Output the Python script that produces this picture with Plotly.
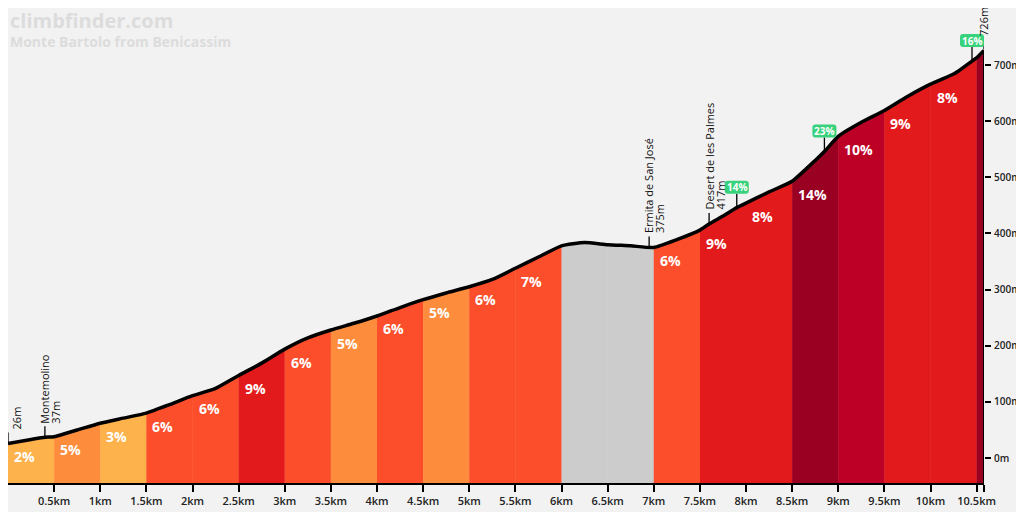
import plotly.graph_objects as go

# --- DATA ---
DIST = [0, 0.25, 0.4, 0.5, 0.75, 1.0, 1.25, 1.5, 1.75, 2.0, 2.25, 2.5, 2.75,
        3.0, 3.25, 3.5, 3.75, 4.0, 4.25, 4.5, 4.75, 5.0, 5.25, 5.5, 5.75,
        6.0, 6.25, 6.5, 6.75, 7.0, 7.25, 7.5, 7.6, 7.75, 7.9, 8.0, 8.25,
        8.5, 8.75, 8.85, 9.0, 9.25, 9.5, 9.75, 10.0, 10.25, 10.3, 10.45,
        10.5, 10.58]
ELEV = [26, 33, 37, 38, 50, 62, 71, 80, 95, 111, 124, 147, 169,
        194, 214, 228, 240, 253, 268, 282, 294, 305, 318, 338, 358,
        378, 384, 380, 378, 375, 389, 406, 417, 431, 446, 454, 474,
        493, 530, 546, 573, 598, 619, 644, 666, 684, 689, 707,
        713, 726]

SEG_BOUNDS = [0, 0.5, 1.0, 1.5, 2.0, 2.5, 3.0, 3.5, 4.0, 4.5, 5.0, 5.5,
              6.0, 6.5, 7.0, 7.5, 8.0, 8.5, 9.0, 9.5, 10.0, 10.5, 10.58]
SEG_LABELS = ['2%', '5%', '3%', '6%', '6%', '9%', '6%', '5%', '6%', '5%', '6%',
              '7%', '', '', '6%', '9%', '8%', '14%', '10%', '9%', '8%', '']
SEG_CLASS = ['c2', 'c5', 'c2', 'c6', 'c6', 'c9', 'c6', 'c5', 'c6', 'c5', 'c6',
             'c6', 'flat', 'flat', 'c6', 'c9', 'c9', 'c14', 'c10', 'c9', 'c9', 'c14']

# named points along the climb
POI_DIST = [0, 0.4, 6.95, 7.6, 10.58]
POI_NAME = ['', 'Montemolino', 'Ermita de San José', 'Desert de les Palmes', '']
POI_ELEV = [26, 37, 375, 417, 726]

# steepest pitches
MAX_DIST = [7.9, 8.85, 10.45]
MAX_ELEV = [446, 546, 707]
MAX_TEXT = ['14%', '23%', '16%']

X_TICKS = [0.5, 1, 1.5, 2, 2.5, 3, 3.5, 4, 4.5, 5, 5.5, 6, 6.5, 7, 7.5, 8,
           8.5, 9, 9.5, 10, 10.5]
Y_TICKS = [0, 100, 200, 300, 400, 500, 600, 700]

# --- STYLE ---
COLORS = {
    'c2': '#feb24c', 'c5': '#fd8d3c', 'c6': '#fc4e2a', 'c9': '#e31a1c',
    'c10': '#bd0026', 'c14': '#990021', 'flat': '#cccccc',
}
BG = '#f2f2f2'
FONT = 'Open Sans'
Y_MIN, Y_MAX = -44.5, 801.6
POI_FONT = dict(family=FONT, size=11, color='#111', weight=500)

fig = go.Figure()

# coloured segments under the profile
for i, cls in enumerate(SEG_CLASS):
    x0, x1 = SEG_BOUNDS[i], SEG_BOUNDS[i + 1]
    xs = [d for d in DIST if x0 <= d <= x1]
    ys = [e for d, e in zip(DIST, ELEV) if x0 <= d <= x1]
    fig.add_trace(go.Scatter(
        x=xs + [x1, x0], y=ys + [Y_MIN, Y_MIN],
        fill='toself', fillcolor=COLORS[cls], mode='lines',
        line=dict(color=COLORS[cls], width=0.8),
        hoverinfo='skip', showlegend=False))
    if SEG_LABELS[i]:
        fig.add_annotation(x=x0, y=ys[0], text=SEG_LABELS[i], showarrow=False,
                           xanchor='left', yanchor='middle', xshift=4, yshift=-13,
                           font=dict(family=FONT, size=14, color='white', weight='bold'))

# profile line
fig.add_trace(go.Scatter(x=DIST, y=ELEV, mode='lines',
                         line=dict(color='black', width=3.5, shape='spline', smoothing=0.5),
                         hoverinfo='skip', showlegend=False))
fig.add_trace(go.Scatter(x=[DIST[-1], DIST[-1]], y=[ELEV[-1], Y_MIN], mode='lines',
                         line=dict(color='black', width=2),
                         hoverinfo='skip', showlegend=False))

# point-of-interest labels: name on the tick, altitude just right of it
for i, (d, e, name) in enumerate(zip(POI_DIST, POI_ELEV, POI_NAME)):
    fig.add_shape(type='line', xref='x', yref='y', ysizemode='pixel', yanchor=e,
                  x0=d, x1=d, y0=1, y1=11, line=dict(color='black', width=1.3))
    if name:
        fig.add_annotation(x=d, y=e, text=name, showarrow=False, textangle=-90,
                           xanchor='center', yanchor='bottom', yshift=12, font=POI_FONT)
        fig.add_annotation(x=d, y=e, text=f'{e}m', showarrow=False, textangle=-90,
                           xanchor='center', yanchor='bottom', xshift=11, yshift=12,
                           font=POI_FONT)
    else:
        first = i == 0
        fig.add_annotation(x=d, y=e, text=f'{e}m', showarrow=False, textangle=-90,
                           xanchor='left' if first else 'center', yanchor='bottom',
                           xshift=-1 if first else 0, yshift=12, font=POI_FONT)

# max gradient badges
for d, e, t in zip(MAX_DIST, MAX_ELEV, MAX_TEXT):
    fig.add_shape(type='line', xref='x', yref='y', ysizemode='pixel', yanchor=e,
                  x0=d, x1=d, y0=1, y1=14, line=dict(color='black', width=1.3))
    fig.add_shape(type='path', xref='x', yref='y', xsizemode='pixel', ysizemode='pixel',
                  xanchor=d, yanchor=e,
                  path='M -9,14 L 9,14 Q 12,14 12,17 L 12,24 Q 12,27 9,27 '
                       'L -9,27 Q -12,27 -12,24 L -12,17 Q -12,14 -9,14 Z',
                  fillcolor='#38d27c', line=dict(width=0))
    fig.add_annotation(x=d, y=e, text=t, showarrow=False, yanchor='middle', yshift=20.5,
                       font=dict(family=FONT, size=10, color='white', weight='bold'))

# header
fig.add_annotation(x=0, y=1, xref='paper', yref='paper', text='climbfinder.com',
                   showarrow=False, xanchor='left', yanchor='top', yshift=3,
                   font=dict(family=FONT, size=20, color='#dcdcdc', weight='bold'))
fig.add_annotation(x=0, y=1, xref='paper', yref='paper', text='Monte Bartolo from Benicassim',
                   showarrow=False, xanchor='left', yanchor='top', yshift=-22,
                   font=dict(family=FONT, size=14, color='#dcdcdc', weight='bold'))

# the page puts the figure 8px in from the top-left corner
fig.update_layout(
    width=1016, height=504,
    margin=dict(l=0, r=40, t=0, b=29),
    paper_bgcolor=BG, plot_bgcolor=BG,
    showlegend=False,
)
fig.update_xaxes(range=[0, DIST[-1]], tickvals=X_TICKS + [DIST[-1]],
                 ticktext=[f'{v:g}km' for v in X_TICKS] + [''],
                 showgrid=False, zeroline=False, showline=True, linecolor='black', linewidth=2,
                 ticks='outside', ticklen=7, tickwidth=2, tickcolor='black',
                 tickfont=dict(family=FONT, size=11, color='#222', weight=600))
fig.update_yaxes(range=[Y_MIN, Y_MAX], side='right', tickvals=Y_TICKS,
                 ticktext=[f'{v}m' for v in Y_TICKS],
                 showgrid=False, zeroline=False, showline=False,
                 ticks='outside', ticklen=6, tickwidth=2, tickcolor='black',
                 ticklabelstandoff=1,
                 tickfont=dict(family=FONT, size=10, color='#222', weight=600))

fig.write_html("out.html")
